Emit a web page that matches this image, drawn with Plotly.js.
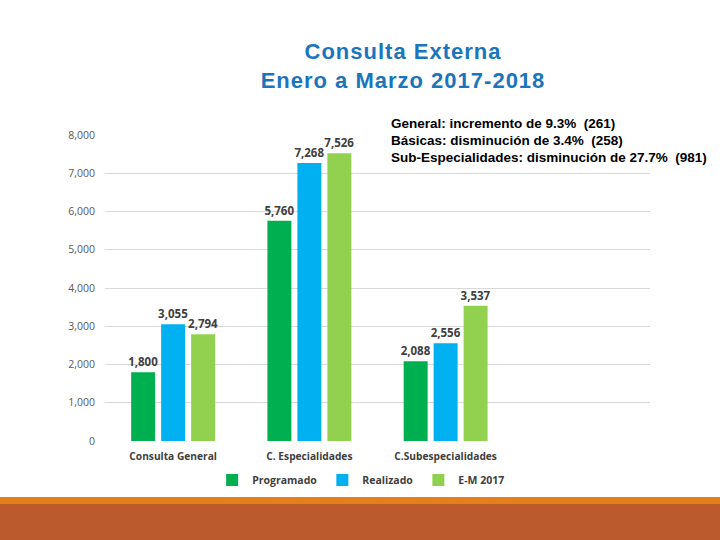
<!DOCTYPE html>
<html>
<head>
<meta charset="utf-8">
<script src="https://cdn.plot.ly/plotly-3.0.1.min.js"></script>
<style>
html,body{margin:0;padding:0;background:#fff;}
#chart{width:720px;height:540px;}
#chart .gtitle{letter-spacing:1px;}
</style>
</head>
<body>
<div id="chart"></div>
<script>
var categories = ["Consulta General", "C. Especialidades", "C.Subespecialidades"];
var seriesNames = ["Programado", "Realizado", "E-M 2017"];
var programado = [1800, 5760, 2088];
var realizado = [3055, 7268, 2556];
var em2017 = [2794, 7526, 3537];
var yTicks = [0, 1000, 2000, 3000, 4000, 5000, 6000, 7000, 8000];
var yTickLabels = ["0", "1,000", "2,000", "3,000", "4,000", "5,000", "6,000", "7,000", "8,000"];
var notes = [
  "General: incremento de 9.3%  (261)",
  "Básicas: disminución de 3.4%  (258)",
  "Sub-Especialidades: disminución de 27.7%  (981)"
];

var colors = ["#00B050", "#00B0F0", "#92D050"];
var xs = categories.map(function(_, i){ return i; });
var fmt = function(v){ return v.toLocaleString("en-US"); };

function mk(name, vals, color){
  return {
    type: "bar", name: name, x: xs, y: vals,
    marker: {color: color},
    text: vals.map(fmt), textposition: "outside", cliponaxis: false, constraintext: "none",
    textfont: {family: "Open Sans, Liberation Sans, Arial", size: 11.5, color: "#404040", weight: "bold"},
    hoverinfo: "none"
  };
}
var data = [mk(seriesNames[0], programado, colors[0]), mk(seriesNames[1], realizado, colors[1]), mk(seriesNames[2], em2017, colors[2])];

var layout = {
  width: 720, height: 540,
  margin: {l: 105, r: 70, t: 135, b: 99},
  paper_bgcolor: "#ffffff", plot_bgcolor: "#ffffff",
  barmode: "group", bargap: 0.34, bargroupgap: 0.2,
  title: {
    text: "Consulta Externa<br>Enero a Marzo 2017-2018",
    xref: "container", yref: "container", x: 403 / 720, y: 0.89, xanchor: "center", yanchor: "top",
    font: {family: "Liberation Sans, Arial", size: 22, color: "#1B75BC", weight: "bold"}
  },
  xaxis: {
    range: [-0.5, 3.5], tickvals: xs, ticktext: categories,
    showgrid: false, zeroline: false, showline: false, ticks: "", ticklabelstandoff: 8,
    tickfont: {family: "Open Sans, Liberation Sans, Arial", size: 10.2, color: "#404040", weight: "bold"},
    fixedrange: true
  },
  yaxis: {
    range: [0, 8000], tickvals: yTicks, ticktext: yTickLabels,
    showgrid: true, gridcolor: "#D9D9D9", gridwidth: 1, zeroline: false, showline: false,
    ticks: "", ticklen: 0, ticklabelstandoff: 9,
    tickfont: {family: "Open Sans, Liberation Sans, Arial", size: 10.5, color: "#595959"},
    fixedrange: true
  },
  showlegend: true,
  legend: {
    orientation: "h", x: 0.47, xanchor: "center", y: -0.08, yanchor: "top",
    bgcolor: "rgba(0,0,0,0)",
    font: {family: "Open Sans, Liberation Sans, Arial", size: 10.5, color: "#404040", weight: "bold"},
    itemwidth: 30, traceorder: "normal"
  },
  annotations: notes.map(function(t, i){
    return {
      text: t, xref: "paper", yref: "paper", x: (389 - 105) / 545, y: (441 - (124 + i * 16.5)) / 306,
      xanchor: "left", yanchor: "middle", showarrow: false, align: "left",
      font: {family: "Liberation Sans, Arial", size: 13.5, color: "#000000", weight: "bold"}
    };
  }),
  shapes: [
    {type: "rect", xref: "paper", yref: "paper", x0: -0.2, x1: 1.15, y0: (441 - 497) / 306, y1: (441 - 504) / 306,
     fillcolor: "#E3801C", line: {width: 0}, layer: "below"},
    {type: "rect", xref: "paper", yref: "paper", x0: -0.2, x1: 1.15, y0: (441 - 504) / 306, y1: (441 - 545) / 306,
     fillcolor: "#BB5A2C", line: {width: 0}, layer: "below"}
  ]
};

Plotly.newPlot("chart", data, layout, {displayModeBar: false, staticPlot: true});
</script>
</body>
</html>
